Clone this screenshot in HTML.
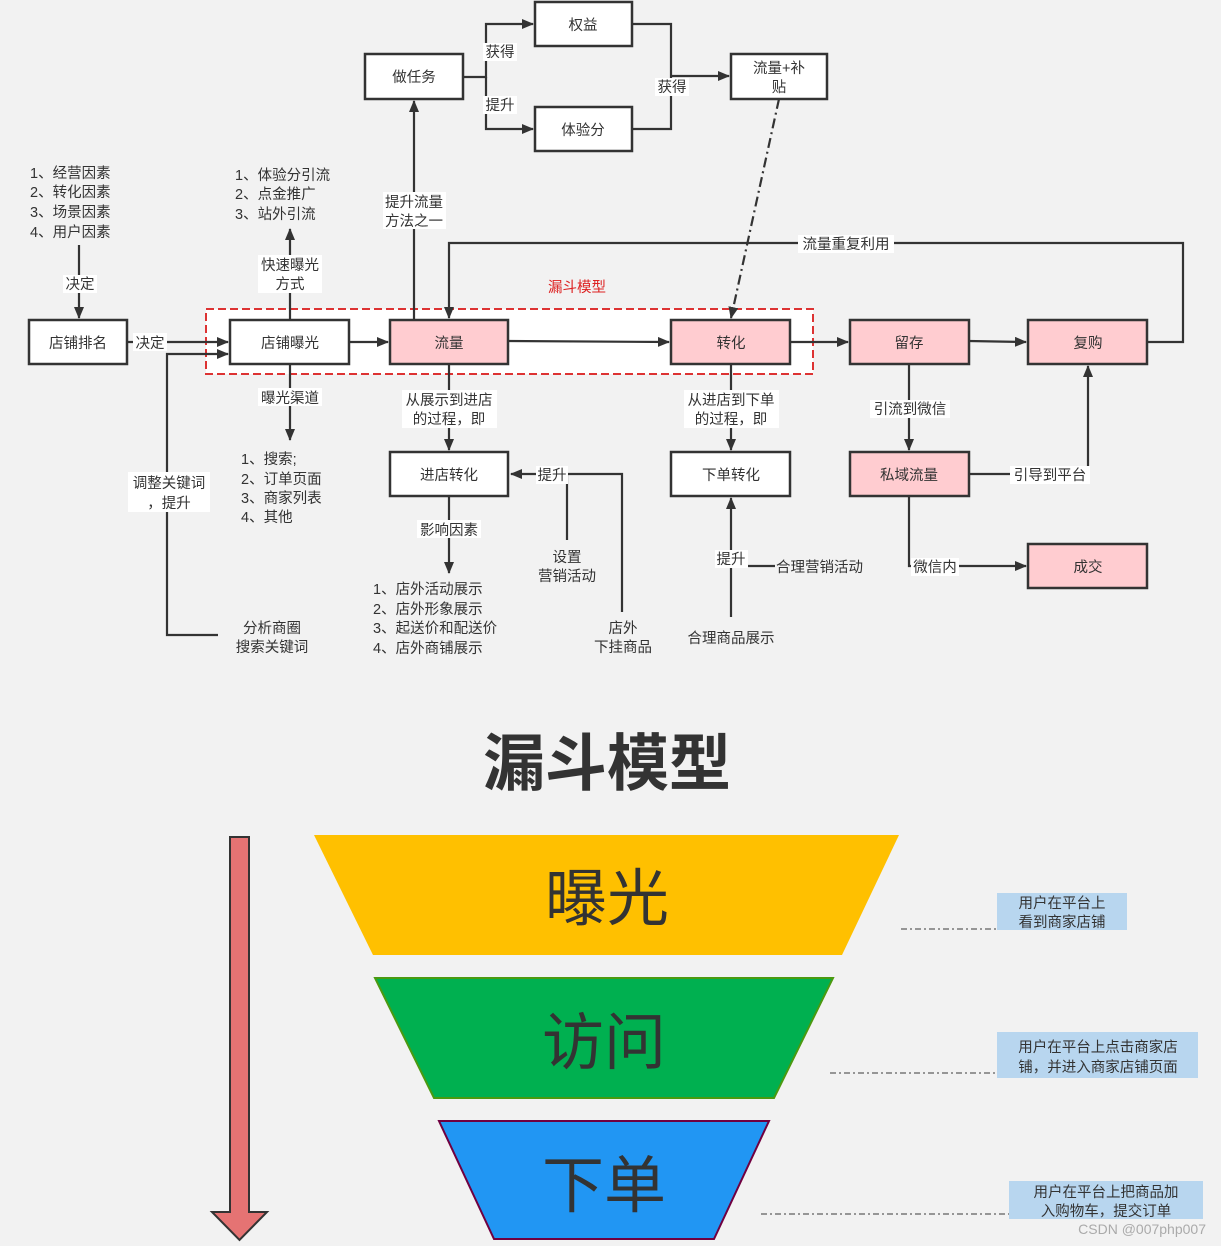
<!DOCTYPE html>
<html><head><meta charset="utf-8"><style>
html,body{margin:0;padding:0;background:#f2f2f2;}
svg{display:block;font-family:"Liberation Sans","Noto Sans CJK SC",sans-serif;}
.b{fill:#fff;stroke:#333;stroke-width:2.5}
.p{fill:#ffccd0;stroke:#333;stroke-width:2.5}
.l{stroke:#333;stroke-width:2.2;fill:none}
text{fill:#333;font-size:14.5px}
.c{text-anchor:middle}
.w{fill:#fff;stroke:none}
</style></head><body>
<svg width="1221" height="1246" viewBox="0 0 1221 1246" xmlns="http://www.w3.org/2000/svg">
<defs><marker id="a" markerWidth="12" markerHeight="10" refX="11" refY="5" orient="auto" markerUnits="userSpaceOnUse"><path d="M0,0L12,5L0,10z" fill="#333"/></marker></defs>
<rect width="1221" height="1246" fill="#f2f2f2"/>

<!-- dashed red funnel area -->
<rect x="206" y="309" width="607" height="65" fill="#fff" stroke="#d33" stroke-width="2" stroke-dasharray="8,4"/>
<text x="577" y="292" class="c" style="fill:#d22">漏斗模型</text>

<!-- lines -->
<path class="l" d="M463,77H486V24H533" marker-end="url(#a)"/>
<path class="l" d="M486,77V129H533" marker-end="url(#a)"/>
<path class="l" d="M632,24H671V129H632"/>
<path class="l" d="M671,76H729" marker-end="url(#a)"/>
<path d="M779,99L731,318" stroke="#333" stroke-width="2.2" stroke-dasharray="10,4,2,4" fill="none" marker-end="url(#a)"/>
<path class="l" d="M414,320V101" marker-end="url(#a)"/>
<path class="l" d="M1147,342H1183V243H449V318" marker-end="url(#a)"/>
<path class="l" d="M79,245V318" marker-end="url(#a)"/>
<path class="l" d="M127,342H228" marker-end="url(#a)"/>
<path class="l" d="M218,635H167V354H228" marker-end="url(#a)"/>
<path class="l" d="M290,320V229" marker-end="url(#a)"/>
<path class="l" d="M290,364V440" marker-end="url(#a)"/>
<path class="l" d="M349,342H388" marker-end="url(#a)"/>
<path class="l" d="M508,341L669,342" marker-end="url(#a)"/>
<path class="l" d="M790,342H848" marker-end="url(#a)"/>
<path class="l" d="M969,341L1026,342" marker-end="url(#a)"/>
<path class="l" d="M449,364V450" marker-end="url(#a)"/>
<path class="l" d="M731,364V450" marker-end="url(#a)"/>
<path class="l" d="M449,496V573" marker-end="url(#a)"/>
<path class="l" d="M622,612V474H511" marker-end="url(#a)"/>
<path class="l" d="M567,474V540"/>
<path class="l" d="M731,617V498" marker-end="url(#a)"/>
<path class="l" d="M731,566H775"/>
<path class="l" d="M909,364V450" marker-end="url(#a)"/>
<path class="l" d="M969,474H1088V366" marker-end="url(#a)"/>
<path class="l" d="M909,496V566H1026" marker-end="url(#a)"/>

<!-- boxes -->
<rect class="b" x="535" y="2" width="97" height="44"/><text x="583" y="30" class="c">权益</text>
<rect class="b" x="365" y="54" width="98" height="45"/><text x="414" y="82" class="c">做任务</text>
<rect class="b" x="535" y="107" width="97" height="44"/><text x="583" y="135" class="c">体验分</text>
<rect class="b" x="731" y="54" width="96" height="45"/><text x="779" y="73" class="c">流量+补</text><text x="779" y="92" class="c">贴</text>
<rect class="b" x="29" y="320" width="98" height="44"/><text x="78" y="348" class="c">店铺排名</text>
<rect class="b" x="230" y="320" width="119" height="44"/><text x="290" y="348" class="c">店铺曝光</text>
<rect class="p" x="390" y="320" width="118" height="44"/><text x="449" y="348" class="c">流量</text>
<rect class="p" x="671" y="320" width="119" height="44"/><text x="731" y="348" class="c">转化</text>
<rect class="p" x="850" y="320" width="119" height="44"/><text x="909" y="348" class="c">留存</text>
<rect class="p" x="1028" y="320" width="119" height="44"/><text x="1088" y="348" class="c">复购</text>
<rect class="b" x="390" y="452" width="118" height="44"/><text x="449" y="480" class="c">进店转化</text>
<rect class="b" x="671" y="452" width="119" height="44"/><text x="731" y="480" class="c">下单转化</text>
<rect class="p" x="850" y="452" width="119" height="44"/><text x="909" y="480" class="c">私域流量</text>
<rect class="p" x="1028" y="544" width="119" height="44"/><text x="1088" y="572" class="c">成交</text>

<!-- labels with white bg -->
<rect class="w" x="483" y="43" width="34" height="18"/><text x="500" y="57" class="c">获得</text>
<rect class="w" x="483" y="96" width="34" height="18"/><text x="500" y="110" class="c">提升</text>
<rect class="w" x="655" y="78" width="34" height="18"/><text x="672" y="92" class="c">获得</text>
<rect class="w" x="383" y="192" width="63" height="37"/><text x="414" y="207" class="c">提升流量</text><text x="414" y="226" class="c">方法之一</text>
<rect class="w" x="798" y="235" width="96" height="18"/><text x="846" y="249" class="c">流量重复利用</text>
<rect class="w" x="63" y="275" width="34" height="18"/><text x="80" y="289" class="c">决定</text>
<rect class="w" x="133" y="333" width="34" height="18"/><text x="150" y="348" class="c">决定</text>
<rect class="w" x="258" y="255" width="64" height="38"/><text x="290" y="270" class="c">快速曝光</text><text x="290" y="289" class="c">方式</text>
<rect class="w" x="258" y="388" width="64" height="18"/><text x="290" y="403" class="c">曝光渠道</text>
<rect class="w" x="128" y="472" width="82" height="40"/><text x="169" y="488" class="c">调整关键词</text><text x="169" y="508" class="c">，提升</text>
<rect class="w" x="402" y="390" width="95" height="38"/><text x="449" y="405" class="c">从展示到进店</text><text x="449" y="424" class="c">的过程，即</text>
<rect class="w" x="684" y="390" width="95" height="38"/><text x="731" y="405" class="c">从进店到下单</text><text x="731" y="424" class="c">的过程，即</text>
<rect class="w" x="417" y="520" width="64" height="18"/><text x="449" y="535" class="c">影响因素</text>
<rect class="w" x="536" y="466" width="32" height="18"/><text x="552" y="480" class="c">提升</text>
<rect class="w" x="715" y="550" width="33" height="18"/><text x="731" y="564" class="c">提升</text>
<rect class="w" x="870" y="400" width="80" height="18"/><text x="910" y="414" class="c">引流到微信</text>
<rect class="w" x="1010" y="466" width="80" height="18"/><text x="1050" y="480" class="c">引导到平台</text>
<rect class="w" x="911" y="558" width="48" height="18"/><text x="935" y="572" class="c">微信内</text>

<!-- plain texts -->
<text x="30" y="178">1、经营因素</text><text x="30" y="197">2、转化因素</text><text x="30" y="217">3、场景因素</text><text x="30" y="237">4、用户因素</text>
<text x="235" y="180">1、体验分引流</text><text x="235" y="199">2、点金推广</text><text x="235" y="219">3、站外引流</text>
<text x="241" y="464">1、搜索;</text><text x="241" y="484">2、订单页面</text><text x="241" y="503">3、商家列表</text><text x="241" y="522">4、其他</text>
<text x="272" y="633" class="c">分析商圈</text><text x="272" y="652" class="c">搜索关键词</text>
<text x="373" y="594">1、店外活动展示</text><text x="373" y="614">2、店外形象展示</text><text x="373" y="633">3、起送价和配送价</text><text x="373" y="653">4、店外商铺展示</text>
<text x="567" y="562" class="c">设置</text><text x="567" y="581" class="c">营销活动</text>
<text x="623" y="633" class="c">店外</text><text x="623" y="652" class="c">下挂商品</text>
<text x="731" y="643" class="c">合理商品展示</text>
<text x="776" y="572">合理营销活动</text>

<!-- title -->
<text x="607" y="785" class="c" style="font-size:62px;font-weight:bold">漏斗模型</text>

<!-- arrow -->
<path d="M230,837H249V1212H267L239.5,1240L212,1212H230Z" fill="#e57373" stroke="#333" stroke-width="2"/>

<!-- funnel -->
<polygon points="314,835 899,835 842,955 373,955" fill="#ffc000"/>
<text x="607" y="920" class="c" style="font-size:62px">曝光</text>
<polygon points="375,978 833,978 774,1098 434,1098" fill="#00b050" stroke="#4a9a10" stroke-width="2"/>
<text x="604" y="1064" class="c" style="font-size:62px">访问</text>
<polygon points="439,1121 769,1121 714,1239 494,1239" fill="#2196f3" stroke="#700040" stroke-width="2"/>
<text x="604" y="1207" class="c" style="font-size:62px">下单</text>

<!-- side notes -->
<path d="M901,929H997" stroke="#777" stroke-width="1.5" stroke-dasharray="6,3,2,3"/>
<rect x="997" y="893" width="130" height="37" fill="#b8d6ef"/>
<text x="1062" y="908" class="c">用户在平台上</text><text x="1062" y="927" class="c">看到商家店铺</text>
<path d="M830,1073H997" stroke="#777" stroke-width="1.5" stroke-dasharray="6,3,2,3"/>
<rect x="997" y="1032" width="201" height="46" fill="#b8d6ef"/>
<text x="1098" y="1052" class="c">用户在平台上点击商家店</text><text x="1098" y="1072" class="c">铺，并进入商家店铺页面</text>
<path d="M761,1214H1009" stroke="#777" stroke-width="1.5" stroke-dasharray="6,3,2,3"/>
<rect x="1009" y="1181" width="194" height="38" fill="#b8d6ef"/>
<text x="1106" y="1197" class="c">用户在平台上把商品加</text><text x="1106" y="1216" class="c">入购物车，提交订单</text>
<text x="1206" y="1234" style="text-anchor:end;fill:#aaa;font-size:14px">CSDN @007php007</text>
</svg>
</body></html>
